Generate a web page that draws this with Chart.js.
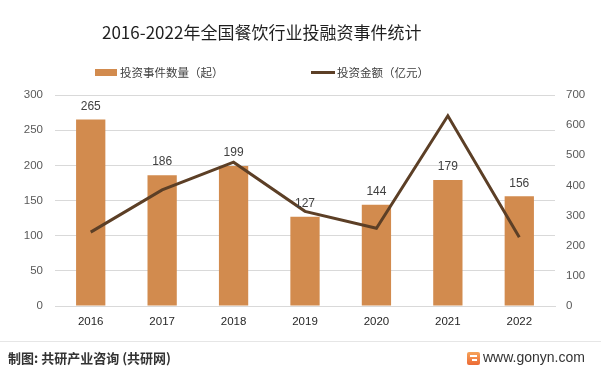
<!DOCTYPE html>
<html>
<head>
<meta charset="utf-8">
<script src="https://cdn.jsdelivr.net/npm/chart.js@4.4.1/dist/chart.umd.min.js"></script>
<style>
  html, body { margin: 0; padding: 0; background: #fff; }
  #wrap { position: relative; width: 601px; height: 375px; overflow: hidden; background: #fff; }
  #c { position: absolute; left: 0; top: 0; }
  .t { position: absolute; white-space: nowrap; font-family: "Noto Sans CJK SC", "Noto Sans", sans-serif; }
  #title { left: 102px; top: 20px; font-size: 17px; line-height: 24px; color: #1f1f1f; }
  .lg { top: 64px; font-size: 11.5px; line-height: 16px; color: #404040; }
  #sw1 { position: absolute; left: 95px; top: 69px; width: 22px; height: 7px; background: #D28B4E; }
  #sw2 { position: absolute; left: 311px; top: 70.5px; width: 24px; height: 3px; background: #5C3F26; }
  #sep { position: absolute; left: 0; top: 341px; width: 601px; height: 1px; background: #e6e6e6; }
  #src { left: 8px; top: 349px; font-size: 13px; line-height: 18px; font-weight: bold; color: #333; }
  #web { left: 483px; top: 348px; font-size: 14px; line-height: 19px; color: #333; font-family: "Liberation Sans", "DejaVu Sans", sans-serif; }
  #logo { position: absolute; left: 467px; top: 352px; width: 13px; height: 13px; border-radius: 2px;
          background: linear-gradient(180deg, #f6a35a 0%, #ec6a35 100%); }
  #logo:after { content: ""; position: absolute; left: 3px; top: 3px; width: 7px; height: 2px; background: #fff; }
  #logo:before { content: ""; position: absolute; left: 5px; top: 7px; width: 5px; height: 2px; background: #fff; }
</style>
</head>
<body>
<div id="wrap">
  <canvas id="c" width="601" height="375"></canvas>
  <div class="t" id="title">2016-2022年全国餐饮行业投融资事件统计</div>
  <div id="sw1"></div>
  <div class="t lg" style="left:120px;">投资事件数量（起）</div>
  <div id="sw2"></div>
  <div class="t lg" style="left:337px;">投资金额（亿元）</div>
  <div id="sep"></div>
  <div class="t" id="src">制图: 共研产业咨询 (共研网)</div>
  <div id="logo"></div>
  <div class="t" id="web">www.gonyn.com</div>
</div>
<script>
const categories = ["2016", "2017", "2018", "2019", "2020", "2021", "2022"];
const eventCounts = [265, 186, 199, 127, 144, 179, 156];
const investAmounts = [245, 385, 477, 314, 258, 631, 228];
const seriesNames = ["投资事件数量（起）", "投资金额（亿元）"];

const barLabels = {
  id: "barLabels",
  afterDatasetsDraw(chart) {
    const ctx = chart.ctx;
    const meta = chart.getDatasetMeta(0);
    ctx.save();
    ctx.font = '12px "Liberation Sans", "DejaVu Sans", sans-serif';
    ctx.fillStyle = "#404040";
    ctx.textAlign = "center";
    ctx.textBaseline = "middle";
    meta.data.forEach((el, i) => {
      ctx.fillText(String(eventCounts[i]), el.x, el.y - 13);
    });
    ctx.restore();
  }
};

new Chart(document.getElementById("c"), {
  data: {
    labels: categories,
    datasets: [
      {
        type: "bar",
        label: seriesNames[0],
        data: eventCounts,
        backgroundColor: "#D28B4E",
        yAxisID: "y",
        order: 1,
        categoryPercentage: 1,
        barPercentage: 0.41
      },
      {
        type: "line",
        label: seriesNames[1],
        data: investAmounts,
        borderColor: "#5C3F26",
        borderWidth: 3,
        pointRadius: 0,
        tension: 0,
        yAxisID: "y1",
        order: 0
      }
    ]
  },
  options: {
    responsive: false,
    animation: false,
    devicePixelRatio: 1,
    layout: { padding: { top: 95, bottom: 39, left: 0, right: 0 } },
    plugins: { legend: { display: false }, title: { display: false }, tooltip: { enabled: false } },
    scales: {
      x: {
        grid: { display: false, drawTicks: false },
        border: { display: true, color: "#d9d9d9", width: 1 },
        ticks: { color: "#262626", padding: 9, font: { size: 11.5, family: '"Liberation Sans", "DejaVu Sans", sans-serif' } },
        afterFit(s) { s.height = 30; }
      },
      y: {
        position: "left",
        min: 0, max: 300,
        ticks: { stepSize: 50, color: "#595959", padding: 12, font: { size: 11.5, family: '"Liberation Sans", "DejaVu Sans", sans-serif' } },
        grid: { color: "#d9d9d9", drawTicks: false },
        border: { display: false },
        afterFit(s) { s.width = 55; }
      },
      y1: {
        position: "right",
        min: 0, max: 700,
        ticks: { stepSize: 100, color: "#595959", padding: 11, font: { size: 11.5, family: '"Liberation Sans", "DejaVu Sans", sans-serif' } },
        grid: { drawOnChartArea: false, drawTicks: false },
        border: { display: false },
        afterFit(s) { s.width = 46; }
      }
    }
  },
  plugins: [barLabels]
});
</script>
</body>
</html>
